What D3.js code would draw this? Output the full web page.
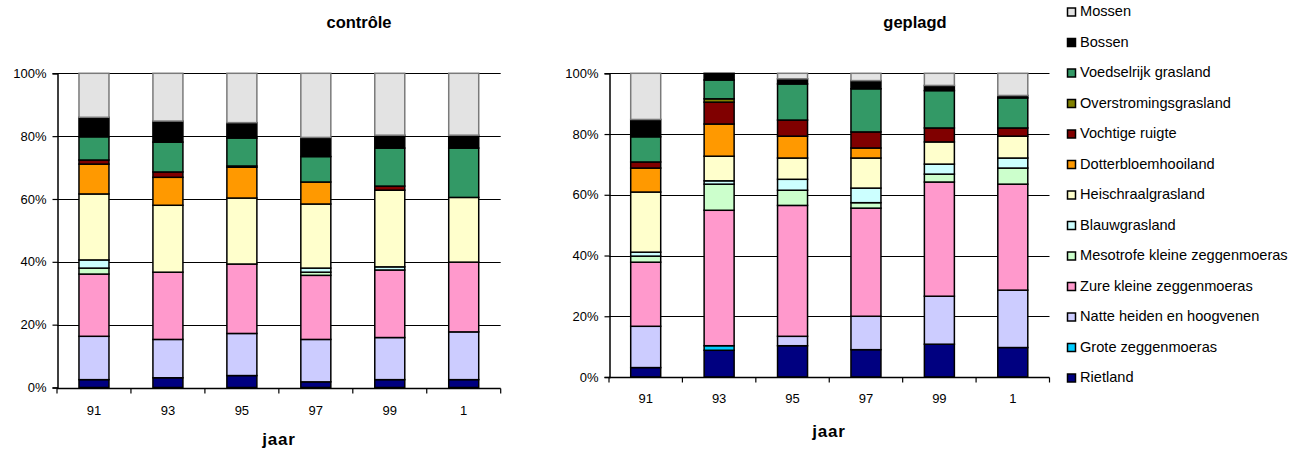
<!DOCTYPE html>
<html><head><meta charset="utf-8">
<script src="https://cdn.jsdelivr.net/npm/d3@7"></script>
<style>
body{margin:0;background:#fff;}
svg{display:block;font-family:"Liberation Sans",Arial,sans-serif;}
</style></head>
<body><svg id="c" width="1306" height="451"></svg>
<script>
const categories = ["91","93","95","97","99","1"];
const seriesNames = ["Rietland","Grote zeggenmoeras","Natte heiden en hoogvenen","Zure kleine zeggenmoeras","Mesotrofe kleine zeggenmoeras","Blauwgrasland","Heischraalgrasland","Dotterbloemhooiland","Vochtige ruigte","Overstromingsgrasland","Voedselrijk grasland","Bossen","Mossen"];
const seriesColors = ["#000080","#00CCFF","#CCCCFF","#FF99CC","#CCFFCC","#CCFFFF","#FFFFCC","#FF9900","#800000","#808000","#339966","#000000","#E3E3E3"];
const yTicks = [0,20,40,60,80,100];
const yTickLabels = ["0%","20%","40%","60%","80%","100%"];

// controle, one array per series (values per category, %)
const controle = {
  "Rietland":                      [2.5, 3.1, 3.8, 1.8, 2.5, 2.5],
  "Grote zeggenmoeras":            [0, 0, 0, 0, 0, 0],
  "Natte heiden en hoogvenen":     [13.8, 12.2, 13.4, 13.5, 13.4, 15.2],
  "Zure kleine zeggenmoeras":      [19.8, 21.4, 22.1, 20.4, 21.5, 22.2],
  "Mesotrofe kleine zeggenmoeras": [1.9, 0, 0, 1.0, 0, 0],
  "Blauwgrasland":                 [2.6, 0, 0, 1.3, 1.0, 0],
  "Heischraalgrasland":            [21.0, 21.3, 21.0, 20.4, 24.4, 20.6],
  "Dotterbloemhooiland":           [9.5, 8.9, 9.8, 7.0, 0, 0],
  "Vochtige ruigte":               [1.3, 1.7, 0.4, 0, 1.3, 0],
  "Overstromingsgrasland":         [0, 0, 0, 0, 0, 0],
  "Voedselrijk grasland":          [7.4, 9.5, 8.9, 8.1, 12.1, 15.7],
  "Bossen":                        [6.2, 6.7, 4.9, 6.1, 4.1, 4.1],
  "Mossen":                        [14.0, 15.2, 15.7, 20.4, 19.7, 19.7]
};
const geplagd = {
  "Rietland":                      [3.1, 8.8, 10.3, 9.0, 10.8, 9.7],
  "Grote zeggenmoeras":            [0, 1.5, 0, 0, 0, 0],
  "Natte heiden en hoogvenen":     [13.6, 0, 3.1, 11.0, 15.8, 18.9],
  "Zure kleine zeggenmoeras":      [21.1, 44.6, 43.1, 35.6, 37.6, 34.9],
  "Mesotrofe kleine zeggenmoeras": [2.0, 8.6, 5.0, 1.8, 2.6, 5.3],
  "Blauwgrasland":                 [1.3, 1.1, 3.6, 4.8, 3.3, 3.3],
  "Heischraalgrasland":            [19.8, 8.1, 7.0, 9.9, 7.3, 7.2],
  "Dotterbloemhooiland":           [7.9, 10.6, 7.2, 3.3, 0, 0],
  "Vochtige ruigte":               [2.0, 7.2, 5.3, 5.3, 4.6, 2.7],
  "Overstromingsgrasland":         [0, 1.1, 0, 0, 0, 0],
  "Voedselrijk grasland":          [8.3, 6.2, 11.9, 14.2, 12.3, 9.9],
  "Bossen":                        [5.7, 2.2, 1.7, 2.7, 1.7, 0.8],
  "Mossen":                        [15.2, 0, 1.8, 2.4, 4.0, 7.3]
};

const svg = d3.select("#c");

function drawChart(data, cfg) {
  const g = svg.append("g");
  const rows = categories.map((c, i) => {
    const r = {cat: c};
    seriesNames.forEach(s => r[s] = data[s][i]);
    return r;
  });
  const stacked = d3.stack().keys(seriesNames).offset(d3.stackOffsetExpand)(rows);
  const x = d3.scaleBand().domain(categories).range([cfg.x0, cfg.x1]).padding(0);
  const y = d3.scaleLinear().domain([0, 100]).range([cfg.yBot, cfg.yTop]);
  const color = d3.scaleOrdinal().domain(seriesNames).range(seriesColors);
  const bw = 30;
  const crisp = v => Math.round(v) + 0.5;

  // gridlines
  g.selectAll(".grid").data(yTicks.filter(t => t > 0)).join("line")
    .attr("x1", cfg.x0).attr("x2", cfg.x1)
    .attr("y1", d => crisp(y(d))).attr("y2", d => crisp(y(d)))
    .attr("stroke", "#000").attr("stroke-width", 1);

  // bars
  stacked.forEach(layer => {
    g.selectAll(null).data(layer.filter(d => d[1] - d[0] > 0.0001)).join("rect")
      .attr("x", d => x(d.data.cat) + (x.bandwidth() - bw) / 2)
      .attr("width", bw)
      .attr("y", d => y(d[1] * 100))
      .attr("height", d => y(d[0] * 100) - y(d[1] * 100))
      .attr("fill", color(layer.key))
      .attr("stroke", layer.key === "Mossen" ? "#7a7a7a" : "#000")
      .attr("stroke-width", 1.5);
  });

  // y axis
  const yAxis = d3.axisLeft(y).tickValues(yTicks).tickFormat((d, i) => yTickLabels[i]).tickSize(5).tickPadding(6);
  const ya = g.append("g").attr("transform", `translate(${Math.round(cfg.x0) + 0.5},0)`).call(yAxis);
  ya.select(".domain").attr("stroke", "#000").attr("stroke-width", 1.5);
  ya.selectAll(".tick line").attr("stroke", "#000").attr("stroke-width", 1.2);
  ya.selectAll("text").attr("font-size", 13).attr("fill", "#000")
    .attr("font-family", "Liberation Sans, Arial, sans-serif");

  // x axis
  const xa = g.append("g").attr("transform", `translate(0,${crisp(cfg.yBot)})`);
  xa.append("line").attr("x1", cfg.x0).attr("x2", cfg.x1).attr("stroke", "#000").attr("stroke-width", 1.5);
  const bounds = d3.range(categories.length + 1).map(i => cfg.x0 + i * x.step());
  xa.selectAll(".xt").data(bounds).join("line")
    .attr("x1", d => d).attr("x2", d => d).attr("y1", 0).attr("y2", 5)
    .attr("stroke", "#000").attr("stroke-width", 1.2);
  xa.selectAll(".xl").data(categories).join("text")
    .attr("x", d => x(d) + x.bandwidth() / 2).attr("y", cfg.labelDy)
    .attr("text-anchor", "middle").attr("font-size", 13).text(d => d);

  // titles
  svg.append("text").attr("x", cfg.titleX).attr("y", 28).attr("text-anchor", "middle")
    .attr("font-size", 16.5).attr("font-weight", "bold").text(cfg.title);
  svg.append("text").attr("x", cfg.xTitleX).attr("y", cfg.xTitleY).attr("text-anchor", "middle")
    .attr("font-size", 17).attr("font-weight", "bold").attr("letter-spacing", 0.8).text("jaar");
}

drawChart(controle, {x0: 57, x1: 500.7, yTop: 73.3, yBot: 387.5, labelDy: 26.5,
  title: "contrôle", titleX: 359, xTitleX: 279, xTitleY: 445});
drawChart(geplagd, {x0: 609, x1: 1049.5, yTop: 73.3, yBot: 377, labelDy: 25.5,
  title: "geplagd", titleX: 915, xTitleX: 829, xTitleY: 437});

// legend
const legendOrder = seriesNames.slice().reverse();
const legColor = d3.scaleOrdinal().domain(seriesNames).range(seriesColors);
const lg = svg.append("g");
legendOrder.forEach((s, i) => {
  const by = 16 + i * 30.5;
  lg.append("rect").attr("x", 1067.5).attr("y", by - 8).attr("width", 8).attr("height", 8)
    .attr("fill", legColor(s)).attr("stroke", "#000").attr("stroke-width", 1.5);
  lg.append("text").attr("x", 1080).attr("y", by).attr("font-size", 14.6).text(s);
});
</script></body></html>
